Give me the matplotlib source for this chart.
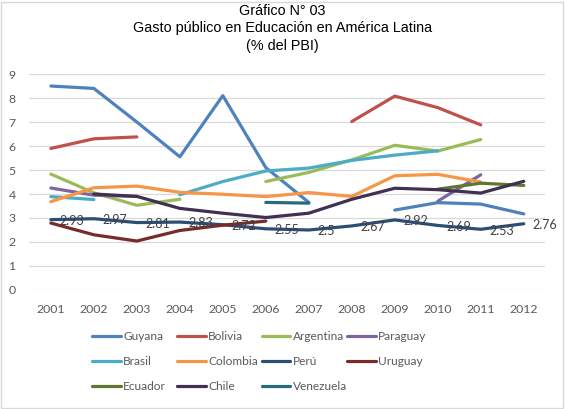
import matplotlib
matplotlib.use("Agg")
import matplotlib.pyplot as plt
from matplotlib.patches import Rectangle

nan = float("nan")

years = [2001, 2002, 2003, 2004, 2005, 2006, 2007, 2008, 2009, 2010, 2011, 2012]

guyana = [8.5, 8.4, 7.0, 5.55, 8.1, 5.1, 3.65, nan, 3.33, 3.64, 3.58, 3.17]
bolivia = [5.9, 6.3, 6.38, nan, nan, nan, nan, 7.02, 8.08, 7.6, 6.88, nan]
argentina = [4.83, 4.05, 3.53, 3.78, nan, 4.52, 4.9, 5.42, 6.03, 5.79, 6.27, nan]
paraguay = [4.25, 3.95, 3.9, nan, nan, nan, nan, nan, nan, 3.7, 4.8, nan]
brasil = [3.89, 3.77, nan, 3.97, 4.52, 4.96, 5.08, 5.4, 5.62, 5.8, nan, nan]
colombia = [3.68, 4.26, 4.33, 4.07, 3.99, 3.89, 4.06, 3.9, 4.76, 4.82, 4.5, nan]
peru = [2.93, 2.97, 2.81, 2.83, 2.72, 2.55, 2.5, 2.67, 2.92, 2.69, 2.53, 2.76]
uruguay = [2.79, 2.3, 2.04, 2.48, 2.7, 2.87, nan, nan, nan, nan, nan, nan]
ecuador = [nan, nan, nan, nan, nan, nan, nan, nan, nan, 4.2, 4.45, 4.36]
chile = [nan, 4.0, 3.9, 3.4, 3.2, 3.02, 3.2, 3.78, 4.24, 4.18, 4.04, 4.53]
venezuela = [nan, nan, nan, nan, nan, 3.65, 3.62, nan, nan, nan, nan, nan]

series = [
    ("Guyana", guyana, "#4F81BD"),
    ("Bolivia", bolivia, "#C0504D"),
    ("Argentina", argentina, "#9BBB59"),
    ("Paraguay", paraguay, "#8064A2"),
    ("Brasil", brasil, "#4BACC6"),
    ("Colombia", colombia, "#F79646"),
    ("Perú", peru, "#2C4D75"),
    ("Uruguay", uruguay, "#772C2A"),
    ("Ecuador", ecuador, "#5F7530"),
    ("Chile", chile, "#403152"),
    ("Venezuela", venezuela, "#276A7C"),
]

fig = plt.figure(figsize=(5.65, 4.09), dpi=100)
ax = fig.add_axes([0.052, 0.291, 0.913, 0.528])

handles = []
for name, vals, color in series:
    (h,) = ax.plot(years, vals, color=color, lw=2.3, label=name,
                   solid_capstyle="round", solid_joinstyle="round")
    handles.append(h)

# Perú data labels
for x, y in zip(years, peru):
    ax.annotate(f"{y:g}", (x, y), xytext=(6, -1), textcoords="offset points",
                ha="left", va="center", fontsize=9, color="#404040",
                family="Lato", annotation_clip=False)

ax.set_ylim(0, 9)
ax.set_xlim(2000.5, 2012.5)
ax.set_yticks(range(0, 10))
ax.set_xticks(years)
ax.grid(axis="y", color="#D9D9D9", lw=0.9)
ax.set_axisbelow(True)
for s in ax.spines.values():
    s.set_visible(False)
ax.tick_params(length=0, labelsize=8.8, labelcolor="#595959", pad=10)
for lab in ax.get_xticklabels() + ax.get_yticklabels():
    lab.set_family("Lato")

fig.suptitle("Gráfico N° 03\nGasto público en Educación en América Latina\n(% del PBI)",
             y=0.99, fontsize=10.4, family="Liberation Sans", linespacing=1.3)

# legend: Excel-style fixed column grid, one legend per column
col_x = [0.163, 0.313, 0.463, 0.614]
for c, x0 in enumerate(col_x):
    idx = list(range(c, len(series), 4))
    leg = fig.legend([handles[i] for i in idx], [series[i][0] for i in idx],
                     loc="upper left", bbox_to_anchor=(x0, 0.19),
                     frameon=False, borderpad=0, borderaxespad=0,
                     handlelength=2.4, handletextpad=0.2, labelspacing=1.15,
                     prop={"family": "Lato", "size": 8.6})
    for t in leg.get_texts():
        t.set_color("#595959")

fig.patches.append(Rectangle((0.002, 0.002), 0.994, 0.994, transform=fig.transFigure,
                             fill=False, edgecolor="#D9D9D9", lw=1))

fig.savefig("out.png", dpi=100)
